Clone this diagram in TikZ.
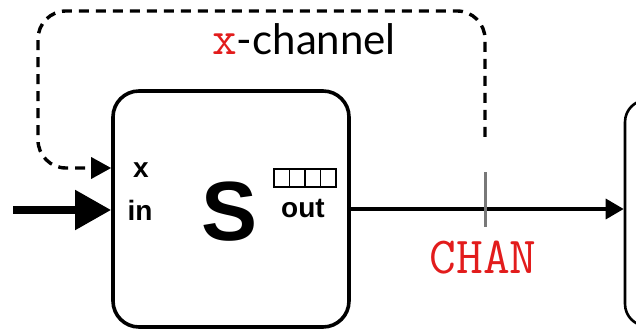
\documentclass[tikz,border=0pt]{standalone}
\usepackage{fontspec}
\usepackage{tikz}
\usetikzlibrary{arrows.meta}
\usetikzlibrary{positioning}

\newfontfamily\portfont{Liberation Sans}
\newfontfamily\namefont{Lato}
\definecolor{chanred}{RGB}{226,28,28}
\definecolor{tickgray}{RGB}{120,120,120}

\begin{document}
\begin{tikzpicture}[x=1pt,y=-1pt,
  proc/.style={draw,line width=3.6pt,rounded corners=26pt,
               minimum width=236pt,minimum height=236pt},
  port/.style={inner sep=0pt,anchor=base,
               font=\portfont\bfseries\fontsize{28}{28}\selectfont},
  cell/.style={draw,line width=1.6pt,inner sep=0pt,
               minimum width=15.5pt,minimum height=18pt},
  chan/.style={inner sep=0pt,anchor=base,text=chanred,
               font=\ttfamily\fontsize{52}{52}\selectfont}]
 \useasboundingbox (0,0) rectangle (636,331);
 % the sender and the next process
 \node[proc] (S) at (231,209) {};
 \node[proc,line width=2.6pt,rounded corners=22pt,
       minimum width=200pt,minimum height=226pt] (R) at (725,213) {};
 % what is printed in the sender
 \node[port] (xin) at (141,177) {x};
 \node[port] (in) at (140,220) {in};
 \node[inner sep=0pt,anchor=base,
       font=\portfont\bfseries\fontsize{84}{84}\selectfont] (name) at (230,240) {S};
 \node[port] (out) at (303,217) {out};
 \foreach \i in {0,...,3}
   \node[cell] (q\i) at ({281.75+15.5*\i},178) {};
 % channel labels
 \node[chan] (chname) at (483,273) {CHAN};
 \node[inner sep=0pt,anchor=base] (xname) at (304,55)
   {\textcolor{chanred}{\ttfamily\fontsize{48}{48}\selectfont x}%
    \namefont\fontsize{42}{42}\selectfont -channel};
 % arrows
 \coordinate (src) at (13,210);
 \coordinate (tap) at (485,137);
 \draw[line width=8pt,-{Triangle[length=36pt,width=38pt]}] (src) -- (S.west |- src);
 \draw[line width=3.4pt,-{Triangle[length=18pt,width=20pt]}] (S.east) -- (S.east -| R.west);
 \draw[line width=3.4pt,dash pattern=on 10pt off 7pt,rounded corners=28pt,
       -{Triangle[length=20pt,width=21pt]}]
   (tap) -- (485,11) -- (38,11) -- (38,168) -- (S.west |- 0,168);
 \draw[tickgray,line width=3pt] (485,172) -- (485,227);
\end{tikzpicture}
\end{document}
